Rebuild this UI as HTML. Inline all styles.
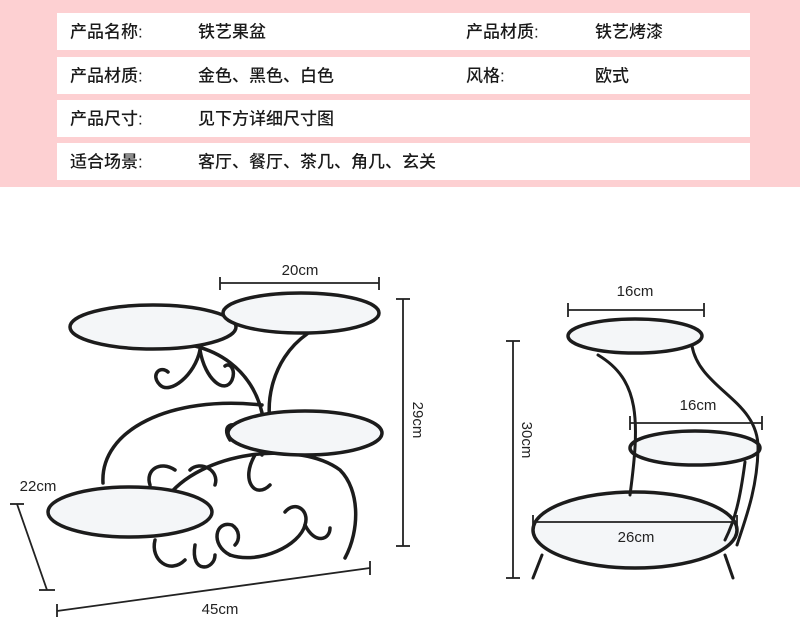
<!DOCTYPE html>
<html><head><meta charset="utf-8"><style>
body{margin:0;width:800px;height:636px;background:#fff;overflow:hidden;font-family:"Liberation Sans","Noto Sans CJK SC",sans-serif;position:relative}
.band{position:absolute;left:0;top:0;width:800px;height:187px;background:#fdd0d2}
.row{position:absolute;left:57px;width:693px;background:#fff;height:37px}
.t{position:absolute;top:50%;transform:translateY(-50%);font-size:17px;color:#1a1a1a;white-space:nowrap;line-height:1;font-weight:500}
</style></head><body>
<div class="band"></div>
<div class="row" style="top:13px"><span class="t" style="left:13px">产品名称:</span><span class="t" style="left:141px">铁艺果盆</span><span class="t" style="left:409px">产品材质:</span><span class="t" style="left:538px">铁艺烤漆</span></div>
<div class="row" style="top:57px"><span class="t" style="left:13px">产品材质:</span><span class="t" style="left:141px">金色、黑色、白色</span><span class="t" style="left:409px">风格:</span><span class="t" style="left:538px">欧式</span></div>
<div class="row" style="top:100px"><span class="t" style="left:13px">产品尺寸:</span><span class="t" style="left:141px">见下方详细尺寸图</span></div>
<div class="row" style="top:143px"><span class="t" style="left:13px">适合场景:</span><span class="t" style="left:141px">客厅、餐厅、茶几、角几、玄关</span></div>
<svg width="800" height="636" style="position:absolute;left:0;top:0" font-family="Liberation Sans, sans-serif" font-size="15" fill="#222">
<g stroke="#1c1c1c" stroke-width="3.5" fill="none" stroke-linecap="round">
<path d="M195 346 C250 360 272 410 262 455"/>
<path d="M103 483 C100 430 170 395 262 405"/>
<path d="M307 334 C270 360 262 410 275 440 C285 455 305 448 300 430"/>
<path d="M165 500 C200 450 300 440 340 470 C360 490 360 530 345 558"/>
<path d="M155 540 C150 560 170 575 185 560"/>
<path d="M200 350 C195 375 170 395 160 385 C150 375 160 365 168 372"/>
<path d="M200 350 C205 380 225 395 232 380 C236 370 230 362 225 366"/>
<path d="M175 470 C160 460 145 470 150 485"/>
<path d="M190 470 C200 460 220 470 215 485"/>
<path d="M230 440 C220 425 235 420 240 430"/>
<path d="M255 455 C240 480 255 500 270 485"/>
<path d="M230 555 C210 545 215 520 232 525 C240 530 240 540 235 545"/>
<path d="M230 555 C260 565 300 545 305 525 C310 510 295 500 285 512"/>
<path d="M305 525 C315 545 330 540 330 528"/>
<path d="M195 545 C190 575 215 570 215 555"/>
</g>
<g stroke="#1c1c1c" stroke-width="3.5" fill="#f4f6f8">
<ellipse cx="153" cy="327" rx="83" ry="22"/>
<ellipse cx="301" cy="313" rx="78" ry="20"/>
<ellipse cx="305" cy="433" rx="77" ry="22"/>
<ellipse cx="130" cy="512" rx="82" ry="25"/>
<ellipse cx="635" cy="336" rx="67" ry="17"/>
<ellipse cx="695" cy="448" rx="65" ry="17"/>
<ellipse cx="635" cy="530" rx="102" ry="38"/>
</g>
<g stroke="#1c1c1c" stroke-width="3" fill="none" stroke-linecap="round">
<path d="M598 355 C640 380 640 420 630 495"/>
<path d="M692 346 C700 390 760 400 758 450 C757 490 745 520 737 545"/>
<path d="M745 462 C740 500 735 520 725 540"/>
<path d="M542 555 L533 578"/><path d="M725 555 L733 578"/>
</g>
<g stroke="#222" stroke-width="1.8">
<line x1="220" y1="283" x2="379" y2="283"/><line x1="220" y1="277" x2="220" y2="290"/><line x1="379" y1="277" x2="379" y2="290"/>
<line x1="403" y1="299" x2="403" y2="546"/><line x1="396" y1="299" x2="410" y2="299"/><line x1="396" y1="546" x2="410" y2="546"/>
<line x1="17" y1="504" x2="47" y2="590"/><line x1="10" y1="504" x2="24" y2="504"/><line x1="39" y1="590" x2="55" y2="590"/>
<line x1="57" y1="611" x2="370" y2="568"/><line x1="57" y1="604" x2="57" y2="617"/><line x1="370" y1="561" x2="370" y2="575"/>
<line x1="568" y1="310" x2="704" y2="310"/><line x1="568" y1="303" x2="568" y2="317"/><line x1="704" y1="303" x2="704" y2="317"/>
<line x1="630" y1="423" x2="762" y2="423"/><line x1="630" y1="416" x2="630" y2="430"/><line x1="762" y1="416" x2="762" y2="430"/>
<line x1="533" y1="522" x2="737" y2="522"/><line x1="533" y1="515" x2="533" y2="529"/><line x1="737" y1="515" x2="737" y2="529"/>
<line x1="513" y1="341" x2="513" y2="578"/><line x1="506" y1="341" x2="520" y2="341"/><line x1="506" y1="578" x2="520" y2="578"/>
</g>
<text x="300" y="275" text-anchor="middle">20cm</text>
<text x="38" y="491" text-anchor="middle">22cm</text>
<text x="220" y="614" text-anchor="middle">45cm</text>
<text x="635" y="296" text-anchor="middle">16cm</text>
<text x="698" y="410" text-anchor="middle">16cm</text>
<text x="636" y="542" text-anchor="middle">26cm</text>
<text transform="translate(413,420) rotate(90)" text-anchor="middle">29cm</text>
<text transform="translate(522,440) rotate(90)" text-anchor="middle">30cm</text>
</svg>
</body></html>
